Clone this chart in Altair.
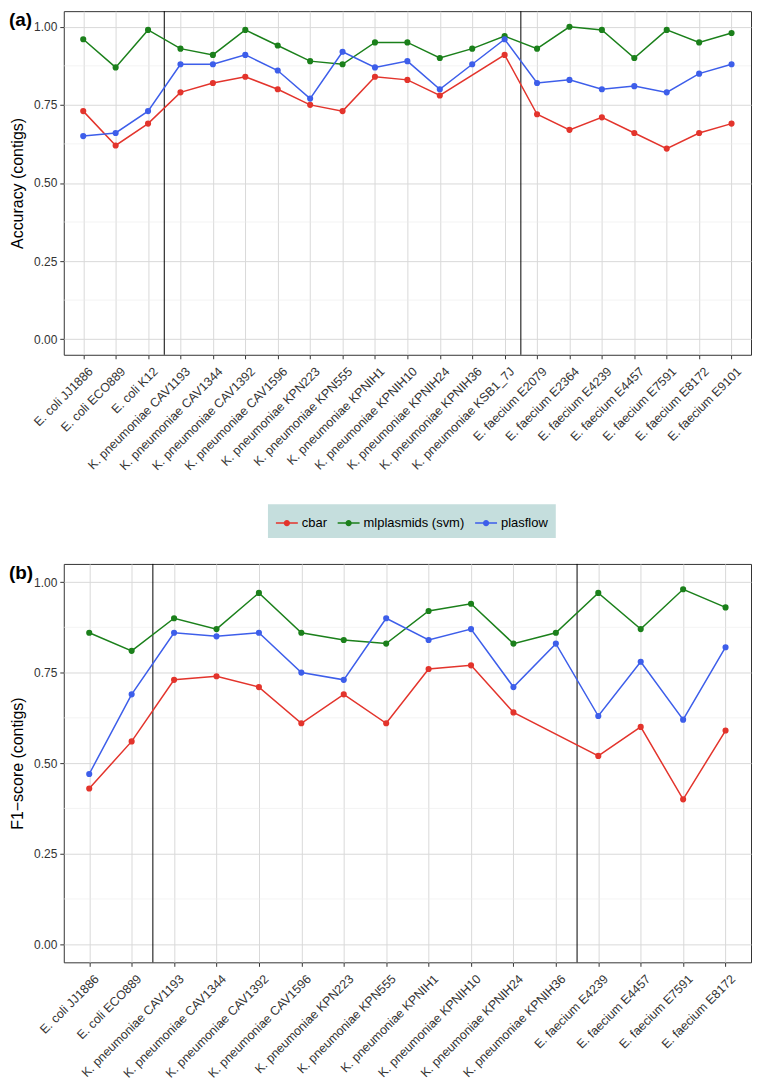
import json
import altair as alt
import pandas as pd

FONT = "Liberation Sans"

names_a = ["E. coli JJ1886", "E. coli ECO889", "E. coli K12",
           "K. pneumoniae CAV1193", "K. pneumoniae CAV1344", "K. pneumoniae CAV1392",
           "K. pneumoniae CAV1596", "K. pneumoniae KPN223", "K. pneumoniae KPN555",
           "K. pneumoniae KPNIH1", "K. pneumoniae KPNIH10", "K. pneumoniae KPNIH24",
           "K. pneumoniae KPNIH36", "K. pneumoniae KSB1_7J",
           "E. faecium E2079", "E. faecium E2364", "E. faecium E4239", "E. faecium E4457",
           "E. faecium E7591", "E. faecium E8172", "E. faecium E9101"]
acc_cbar = [0.73, 0.62, 0.69, 0.79, 0.82, 0.84, 0.80, 0.75, 0.73, 0.84, 0.83, 0.78,
            None, 0.91, 0.72, 0.67, 0.71, 0.66, 0.61, 0.66, 0.69]
acc_mlp = [0.96, 0.87, 0.99, 0.93, 0.91, 0.99, 0.94, 0.89, 0.88, 0.95, 0.95, 0.90,
           0.93, 0.97, 0.93, 1.00, 0.99, 0.90, 0.99, 0.95, 0.98]
acc_plas = [0.65, 0.66, 0.73, 0.88, 0.88, 0.91, 0.86, 0.77, 0.92, 0.87, 0.89, 0.80,
            0.88, 0.96, 0.82, 0.83, 0.80, 0.81, 0.79, 0.85, 0.88]
seps_a = [2.5, 13.5]

names_b = ["E. coli JJ1886", "E. coli ECO889",
           "K. pneumoniae CAV1193", "K. pneumoniae CAV1344", "K. pneumoniae CAV1392",
           "K. pneumoniae CAV1596", "K. pneumoniae KPN223", "K. pneumoniae KPN555",
           "K. pneumoniae KPNIH1", "K. pneumoniae KPNIH10", "K. pneumoniae KPNIH24",
           "K. pneumoniae KPNIH36",
           "E. faecium E4239", "E. faecium E4457", "E. faecium E7591", "E. faecium E8172"]
f1_cbar = [0.43, 0.56, 0.73, 0.74, 0.71, 0.61, 0.69, 0.61, 0.76, 0.77, 0.64, None,
           0.52, 0.60, 0.40, 0.59]
f1_mlp = [0.86, 0.81, 0.90, 0.87, 0.97, 0.86, 0.84, 0.83, 0.92, 0.94, 0.83, 0.86,
          0.97, 0.87, 0.98, 0.93]
f1_plas = [0.47, 0.69, 0.86, 0.85, 0.86, 0.75, 0.73, 0.90, 0.84, 0.87, 0.71, 0.83,
           0.63, 0.78, 0.62, 0.82]
seps_b = [1.5, 11.5]

series = ["cbar", "mlplasmids (svm)", "plasflow"]
colors = ["#e3342c", "#1b801b", "#3d5eea"]

y_major = [0, 0.25, 0.5, 0.75, 1.0]
y_minor = [0.125, 0.375, 0.625, 0.875]

SYMBOL = ("M-1,-0.07L1,-0.07L1,0.07L-1,0.07Z "
          "M0.29,0A0.29,0.29 0 1,1 -0.29,0A0.29,0.29 0 1,1 0.29,0Z")

color_scale = alt.Scale(domain=series, range=colors)


def make_legend(show):
    if not show:
        return None
    return alt.Legend(title=None, orient="none", direction="horizontal",
                      legendX=205, legendY=495, fillColor="#c5dedd", padding=8,
                      symbolType=SYMBOL, symbolSize=484, symbolStrokeWidth=0,
                      symbolOpacity=1, labelFontSize=13, labelFont=FONT,
                      labelColor="#000000", columnPadding=10, labelOffset=4)


def long_df(names, vals_list):
    rows = []
    for s, vals in zip(series, vals_list):
        for i, (n, v) in enumerate(zip(names, vals)):
            if v is not None:
                rows.append({"idx": i, "name": n, "method": s, "value": v})
    return pd.DataFrame(rows)


def panel(names, vals_list, seps, ytitle, tag, height, show_legend):
    df = long_df(names, vals_list)
    n = len(names)
    label_expr = json.dumps(names) + "[datum.value]"
    xs = alt.Scale(domain=[-0.6, n - 0.4], nice=False, zero=False)
    ys = alt.Scale(domain=[-0.05, 1.05], nice=False, zero=False)
    x = alt.X("idx:Q", scale=xs,
              axis=alt.Axis(values=list(range(n)), labelExpr=label_expr,
                            labelAngle=-45, labelAlign="right", labelBaseline="top",
                            labelOverlap=False, labelBound=False, labelFlush=False,
                            labelFontSize=12.5, labelOffset=3,
                            title=None, grid=True, labelPadding=6))
    y = alt.Y("value:Q", scale=ys,
              axis=alt.Axis(values=y_major, format=".2f", title=ytitle, grid=True,
                            labelPadding=3, titlePadding=8))

    minor = alt.Chart(pd.DataFrame({"value": y_minor})).mark_rule(
        color="#ebebeb", strokeWidth=0.6).encode(y=y)
    sep = alt.Chart(pd.DataFrame({"idx": seps})).mark_rule(
        color="#000000", strokeWidth=1).encode(x=x)
    lines = alt.Chart(df).mark_line(strokeWidth=1.5).encode(
        x=x, y=y, color=alt.Color("method:N", scale=color_scale, legend=None))
    pts = alt.Chart(df).mark_point(filled=True, size=38, opacity=1).encode(
        x=x, y=y, color=alt.Color("method:N", scale=color_scale,
                                  legend=make_legend(show_legend)))
    label = alt.Chart(pd.DataFrame({"tag": [tag]})).mark_text(
        font=FONT, fontSize=19, fontWeight="bold", align="left", baseline="top",
        color="#000000").encode(text="tag:N", x=alt.value(-55), y=alt.value(0))
    return alt.layer(minor, sep, lines, pts, label).resolve_legend(
        color="independent").properties(width=690, height=height)


pa = panel(names_a, [acc_cbar, acc_mlp, acc_plas], seps_a, "Accuracy (contigs)",
           "(a)", 345, True)
pb = panel(names_b, [f1_cbar, f1_mlp, f1_plas], seps_b, "F1\u2212score (contigs)",
           "(b)", 400, False)

chart = alt.vconcat(pa, pb, spacing=24).properties(
    padding={"left": 0, "top": 0, "right": 0, "bottom": 0}
).configure_view(
    stroke="#333333", strokeWidth=1
).configure_axis(
    labelFont=FONT, titleFont=FONT, labelFontSize=12, titleFontSize=16,
    titleFontWeight="normal", labelColor="#333333", titleColor="#000000",
    tickColor="#333333", tickSize=4, domain=False,
    gridColor="#d9d9d9", gridWidth=1
)

chart.save("out.html", embed_options={"renderer": "svg", "actions": False})
